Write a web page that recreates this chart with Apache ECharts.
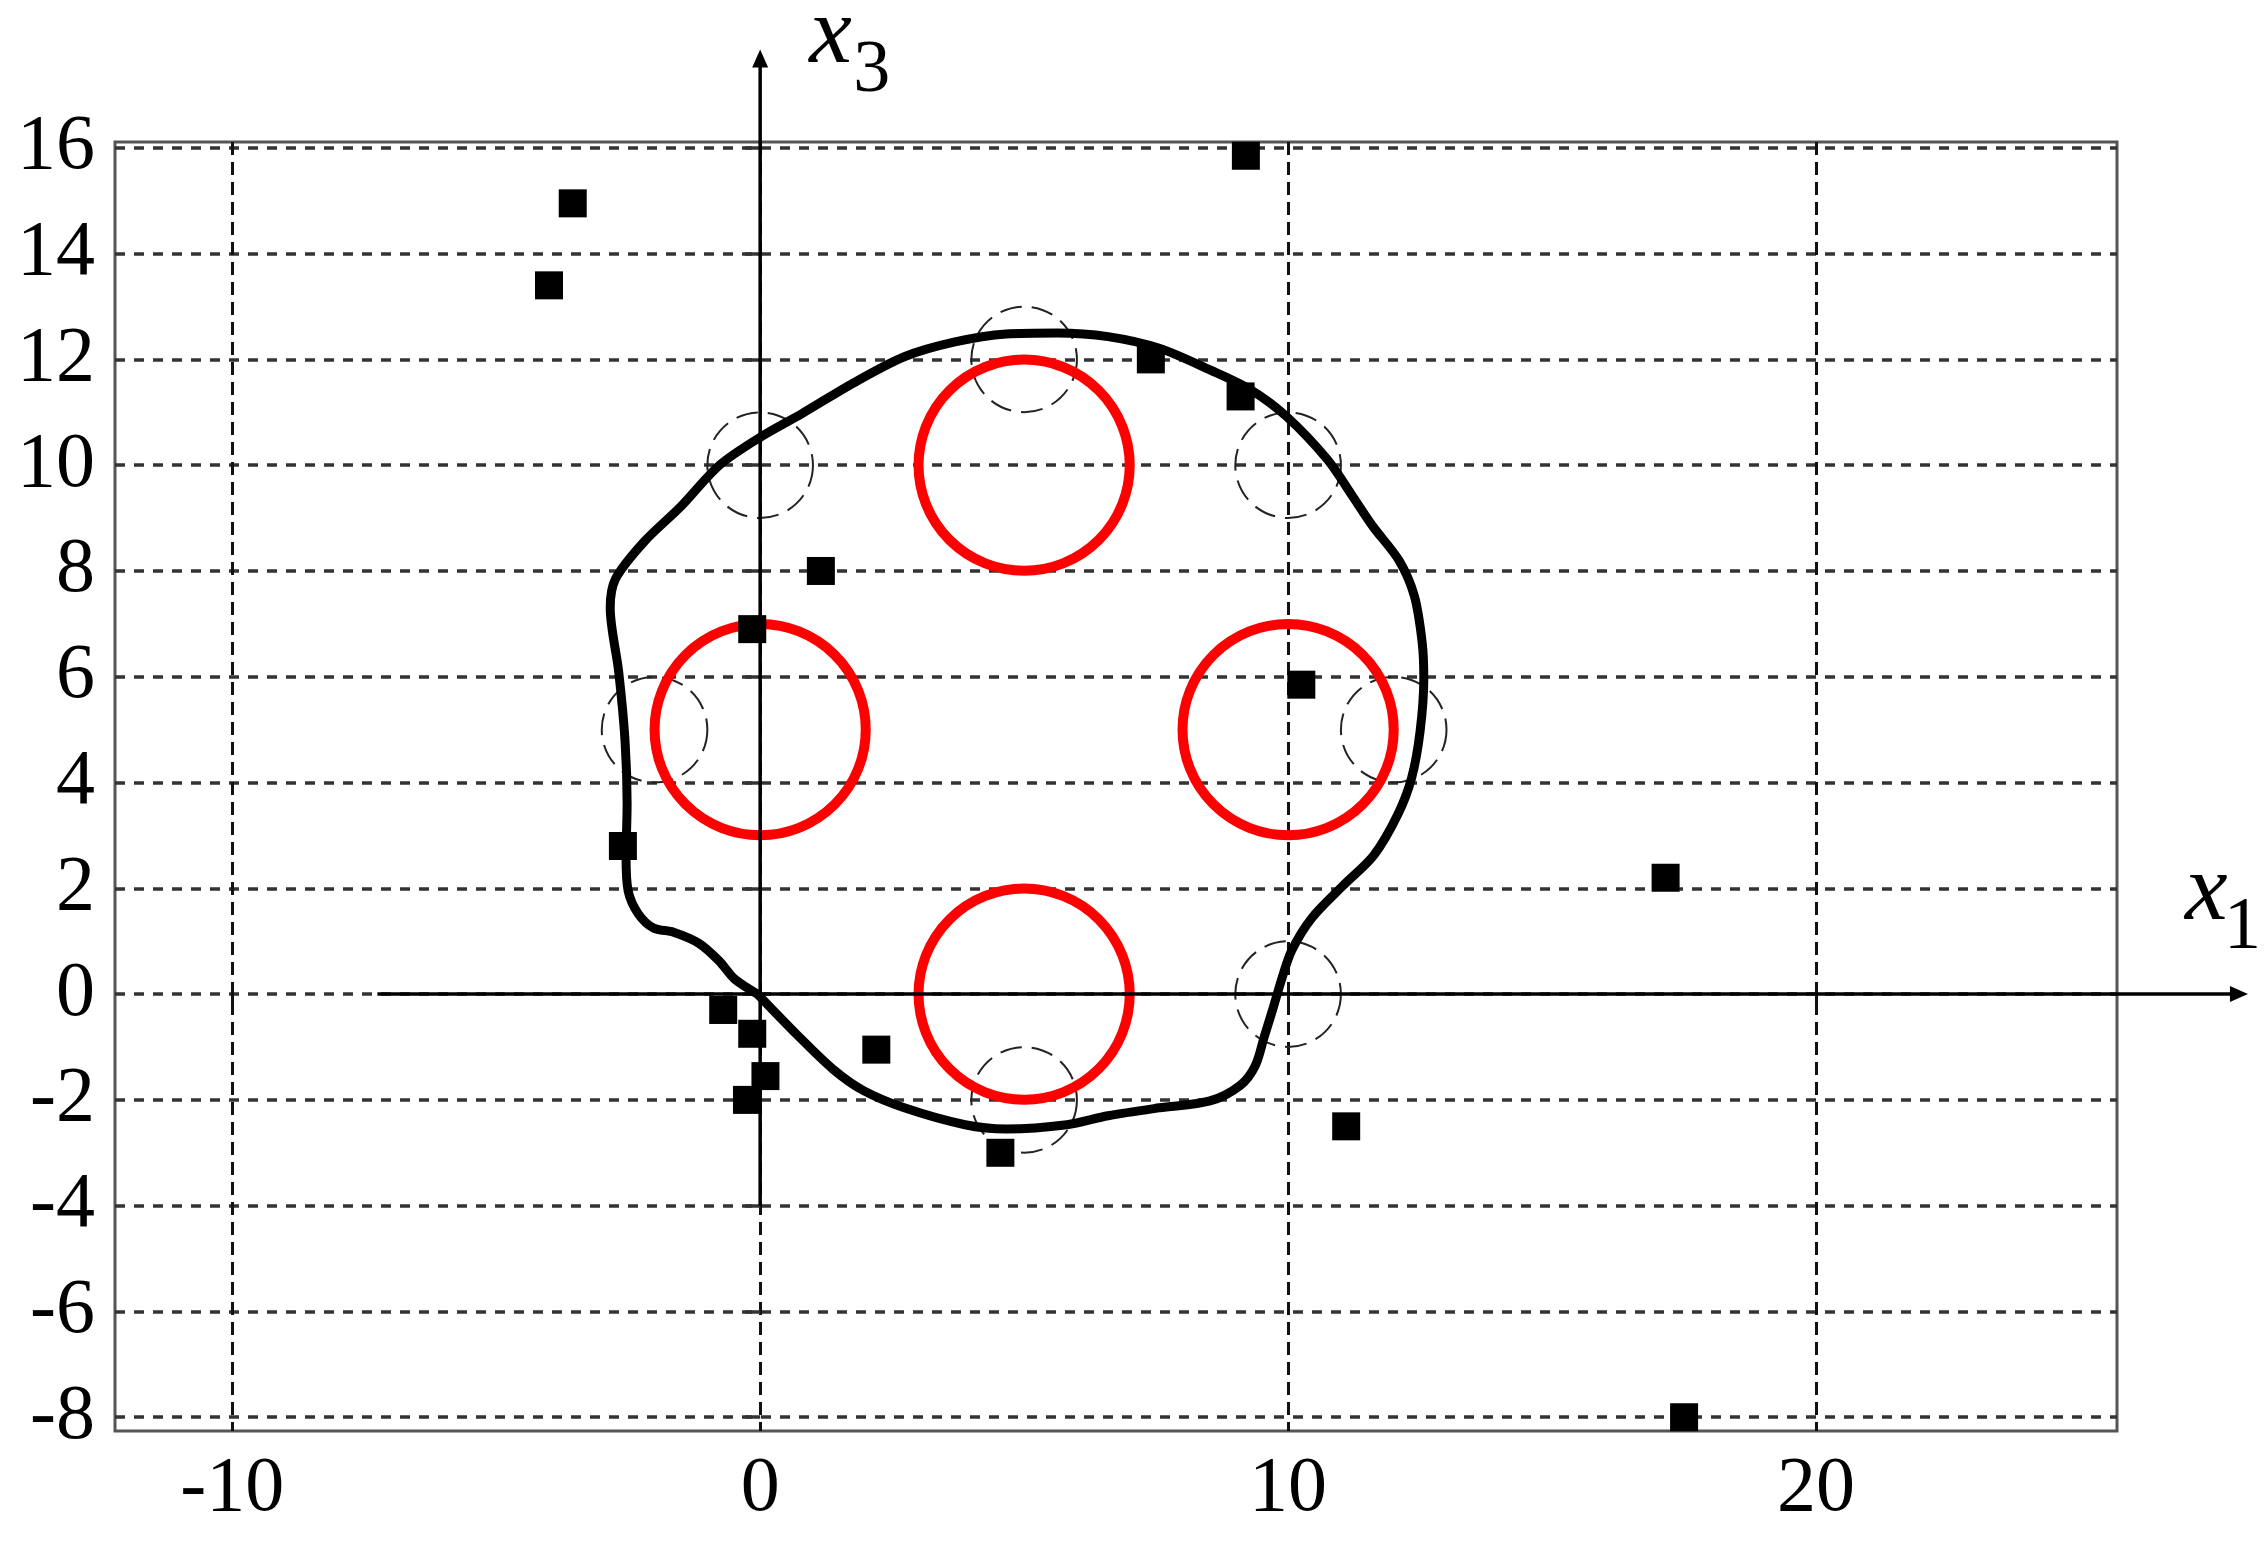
<!DOCTYPE html>
<html>
<head>
<meta charset="utf-8">
<script src="https://cdn.jsdelivr.net/npm/echarts@6/dist/echarts.min.js"></script>
<style>
  html, body { margin: 0; padding: 0; background: #fff; }
  #chart { width: 2267px; height: 1544px; }
</style>
</head>
<body>
<div id="chart"></div>
<script>
// tick labels
const xTicks = [-10, 0, 10, 20];
const yTicks = [-8, -6, -4, -2, 0, 2, 4, 6, 8, 10, 12, 14, 16];

// black squares
const points = [
  [-3.55, 14.95], [-4.0, 13.4], [9.2, 15.85], [7.4, 12.0], [9.1, 11.3],
  [1.15, 8.0], [-0.15, 6.9], [10.25, 5.85], [-2.6, 2.8], [17.15, 2.2],
  [-0.7, -0.3], [-0.15, -0.75], [0.1, -1.55], [-0.25, -2.0], [2.2, -1.05],
  [4.55, -3.0], [11.1, -2.5], [17.5, -8.0]
];

// red circles (centre x1, centre x3), radius 2
const redCentres = [[0, 5], [5, 10], [10, 5], [5, 0]];
const redRadius = 2;

// thin dashed circles, radius 1
const dashCentres = [[0, 10], [5, 12], [10, 10], [-2, 5], [12, 5], [10, 0], [5, -2]];
const dashRadius = 1;

// thick closed boundary
const boundary = [
  [-0.05, 0.0], [-0.49, 0.29], [-0.78, 0.63], [-1.16, 0.96], [-1.64, 1.17],
  [-2.02, 1.25], [-2.31, 1.52], [-2.5, 1.95], [-2.54, 2.6], [-2.52, 3.6],
  [-2.56, 4.8], [-2.68, 6.1], [-2.84, 7.3], [-2.74, 7.85], [-2.2, 8.55],
  [-1.5, 9.22], [-0.77, 10.0], [0.02, 10.54], [0.8, 10.98], [1.76, 11.55],
  [2.73, 12.05], [3.69, 12.33], [4.66, 12.48], [5.63, 12.5], [6.59, 12.43],
  [7.56, 12.21], [8.52, 11.8], [9.3, 11.42], [9.97, 10.92], [10.75, 10.1],
  [11.23, 9.4], [11.6, 8.85], [12.1, 8.2], [12.39, 7.53], [12.54, 6.64],
  [12.57, 5.97], [12.5, 4.97], [12.34, 4.09], [12.08, 3.4], [11.62, 2.62],
  [11.04, 2.05], [10.45, 1.44], [10.07, 0.83], [9.88, 0.29], [9.72, -0.25],
  [9.55, -0.8], [9.38, -1.35], [9.1, -1.72], [8.52, -2.02], [7.56, -2.15],
  [6.59, -2.3], [5.81, -2.47], [4.66, -2.55], [3.88, -2.47], [2.73, -2.15],
  [1.95, -1.82], [1.38, -1.42], [0.7, -0.77], [-0.05, 0.0]
];

// coordinate axes x1 and x3: start point, arrow tip
const axisArrows = [
  [-7.25, 0, 28.18, 0],
  [0, -4, 0, 17.86]
];

const chart = echarts.init(document.getElementById('chart'));

// circle drawn through the axes scale
const circleItem = (radius, style) => (params, api) => {
  const c = api.coord([api.value(0), api.value(1)]);
  const s = api.size([radius, radius]);
  return {
    type: 'circle',
    shape: { cx: c[0], cy: c[1], r: s[0] },
    style: Object.assign({ fill: 'none' }, style)
  };
};

// axis line with a filled arrow head at the end
const arrowItem = (params, api) => {
  const p0 = api.coord([api.value(0), api.value(1)]);
  const p1 = api.coord([api.value(2), api.value(3)]);
  const ang = Math.atan2(p1[1] - p0[1], p1[0] - p0[0]);
  const len = 18, half = 8;
  const bx = p1[0] - len * Math.cos(ang);
  const by = p1[1] - len * Math.sin(ang);
  const nx = -Math.sin(ang), ny = Math.cos(ang);
  return {
    type: 'group',
    children: [
      {
        type: 'line',
        shape: { x1: p0[0], y1: p0[1], x2: bx + 2 * Math.cos(ang), y2: by + 2 * Math.sin(ang) },
        style: { stroke: '#000', lineWidth: 3.5 }
      },
      {
        type: 'polygon',
        shape: { points: [p1, [bx + nx * half, by + ny * half], [bx - nx * half, by - ny * half]] },
        style: { fill: '#000' }
      }
    ]
  };
};

const labelFont = { fontFamily: 'Liberation Serif', fontSize: 78, color: '#000' };

chart.setOption({
  animation: false,
  backgroundColor: '#fff',
  grid: {
    left: 115, right: 150, top: 142, bottom: 113,
    show: true, borderColor: '#555', borderWidth: 3,
    outerBoundsMode: 'none'
  },
  xAxis: {
    type: 'value', min: -12.22, max: 25.7,
    axisLine: { show: false },
    axisTick: { show: true, length: 12, customValues: xTicks, lineStyle: { color: '#111', width: 3 } },
    axisLabel: Object.assign({ margin: 20, customValues: xTicks }, labelFont),
    splitLine: { show: true, lineStyle: { color: '#111', width: 3, type: [13, 7] } }
  },
  yAxis: {
    type: 'value', min: -8.26, max: 16.11,
    axisLine: { show: false },
    axisTick: { show: true, length: 15, customValues: yTicks, lineStyle: { color: '#333', width: 3.5 } },
    axisLabel: Object.assign({ margin: 20, customValues: yTicks }, labelFont),
    splitLine: { show: true, lineStyle: { color: '#333', width: 3.5, type: [10, 9] } }
  },
  series: [
    {
      type: 'custom', data: dashCentres, z: 2,
      renderItem: circleItem(dashRadius, { stroke: '#222', lineWidth: 2, lineDash: [22, 10] })
    },
    {
      type: 'custom', data: redCentres, z: 3,
      renderItem: circleItem(redRadius, { stroke: '#ff0000', lineWidth: 10 })
    },
    {
      type: 'line', data: boundary, z: 4, smooth: 0.3, symbol: 'none',
      lineStyle: { color: '#000', width: 9 }
    },
    {
      type: 'custom', data: axisArrows, z: 5, clip: false,
      encode: { x: [0, 2], y: [1, 3] },
      renderItem: arrowItem
    },
    {
      type: 'scatter', data: points, z: 7, symbol: 'rect', symbolSize: 28,
      itemStyle: { color: '#000', opacity: 1 }
    }
  ]
});

// axis names x1, x3 next to the arrow tips
const tip1 = chart.convertToPixel({ gridIndex: 0 }, [axisArrows[0][2], axisArrows[0][3]]);
const tip3 = chart.convertToPixel({ gridIndex: 0 }, [axisArrows[1][2], axisArrows[1][3]]);
const nameText = (text, x, y, size, italic) => ({
  type: 'text', x: x, y: y, z: 10,
  style: {
    text: text, fill: '#000', align: 'left', verticalAlign: 'middle',
    font: (italic ? 'italic ' : '') + size + 'px "Liberation Serif"'
  }
});
chart.setOption({
  graphic: [
    nameText('x', tip3[0] + 49, tip3[1] - 13, 96, true),
    nameText('3', tip3[0] + 93, tip3[1] + 22, 74, false),
    nameText('x', tip1[0] - 63, tip1[1] - 100, 96, true),
    nameText('1', tip1[0] - 24, tip1[1] - 66, 74, false)
  ]
});

window.addEventListener('resize', () => chart.resize());
</script>
</body>
</html>
